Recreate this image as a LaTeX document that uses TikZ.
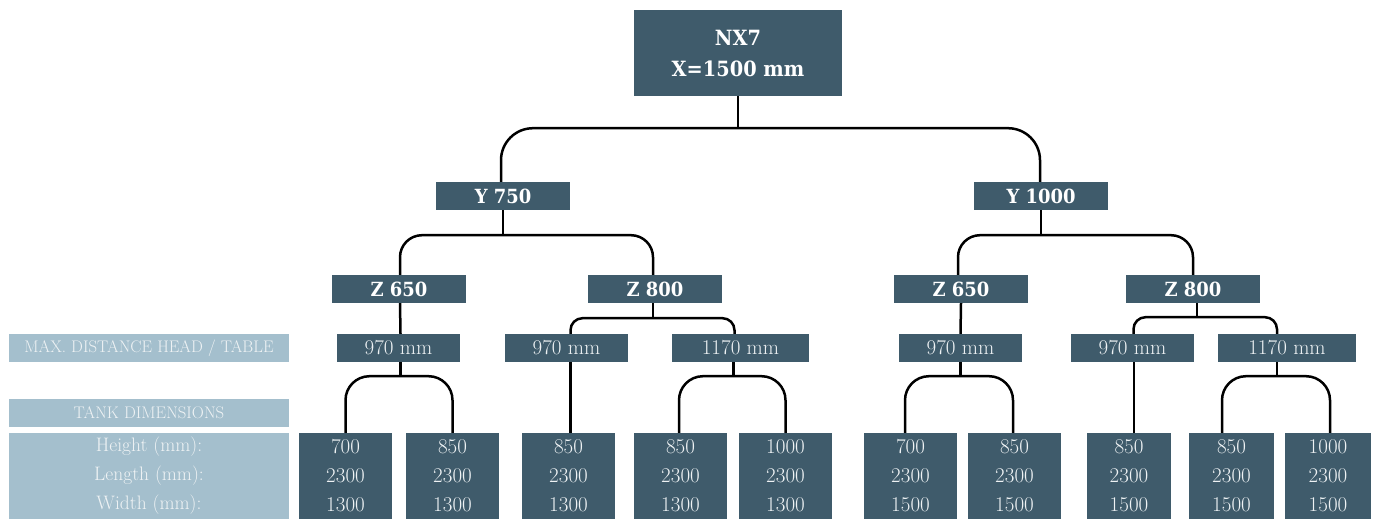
\documentclass[tikz,border=0pt]{standalone}
\usepackage{fontspec}
\newfontfamily\boldslab{DejaVu Serif}[FakeStretch=0.92]
\usetikzlibrary{calc}
\definecolor{darkbox}{HTML}{3F5B6B}
\definecolor{lightbox}{HTML}{A4BFCD}
\definecolor{boxtext}{HTML}{EEF2F4}
\tikzset{
  hdr/.style={fill=darkbox, text=white, inner sep=0pt, minimum height=28pt,
    font=\boldslab\bfseries\fontsize{19.5}{22}\selectfont},
  dist/.style={fill=darkbox, text=boxtext, inner sep=0pt, minimum height=28pt,
    font=\fontsize{21}{24}\selectfont},
  tank/.style={fill=darkbox, text=boxtext, inner sep=0pt, minimum height=86pt,
    align=center, font=\fontsize{21}{29}\selectfont},
  lab/.style={fill=lightbox, text=boxtext, inner sep=0pt, minimum width=280pt,
    align=center, font=\fontsize{16.8}{29}\selectfont},
  conn/.style={draw=black, line width=2.5pt},
}
\begin{document}
\begin{tikzpicture}[x=1pt,y=-1pt]
\useasboundingbox[fill=white] (0,0) rectangle (1376,519);
% root
\node[hdr, minimum width=208pt, minimum height=86pt, align=center,
  font=\boldslab\bfseries\fontsize{21}{31}\selectfont] (nx7) at (738,53) {NX7\\X=1500 mm};
% Y level
\node[hdr, minimum width=134pt] (y750) at (503,196) {Y 750};
\node[hdr, minimum width=134pt] (y1000) at (1041,196) {Y 1000};
% Z level
\node[hdr, minimum width=134pt] (z650l) at (399,289) {Z 650};
\node[hdr, minimum width=134pt] (z800l) at (655,289) {Z 800};
\node[hdr, minimum width=134pt] (z650r) at (961,289) {Z 650};
\node[hdr, minimum width=134pt] (z800r) at (1193,289) {Z 800};
% distances
\node[dist, minimum width=123pt] (d1) at (398.5,348) {970 mm};
\node[dist, minimum width=123pt] (d2) at (566.5,348) {970 mm};
\node[dist, minimum width=137pt] (d3) at (740.5,348) {1170 mm};
\node[dist, minimum width=123pt] (d4) at (960.5,348) {970 mm};
\node[dist, minimum width=123pt] (d5) at (1132.5,348) {970 mm};
\node[dist, minimum width=138pt] (d6) at (1287,348) {1170 mm};
% tanks
\node[tank, minimum width=93pt] (t1) at (345.5,476) {700\\2300\\1300};
\node[tank, minimum width=93pt] (t2) at (452.5,476) {850\\2300\\1300};
\node[tank, minimum width=93pt] (t3) at (568.5,476) {850\\2300\\1300};
\node[tank, minimum width=93pt] (t4) at (680.5,476) {850\\2300\\1300};
\node[tank, minimum width=93pt] (t5) at (785.5,476) {1000\\2300\\1300};
\node[tank, minimum width=93pt] (t6) at (910.5,476) {700\\2300\\1500};
\node[tank, minimum width=93pt] (t7) at (1014.5,476) {850\\2300\\1500};
\node[tank, minimum width=84pt] (t8) at (1129,476) {850\\2300\\1500};
\node[tank, minimum width=85pt] (t9) at (1231.5,476) {850\\2300\\1500};
\node[tank, minimum width=86pt] (t10) at (1328,476) {1000\\2300\\1500};
% left labels
\node[lab, minimum height=28pt] (l1) at (149,348) {MAX. DISTANCE HEAD / TABLE};
\node[lab, minimum height=28pt] (l2) at (149,413) {TANK DIMENSIONS};
\node[lab, minimum height=86pt, font=\fontsize{19.5}{29}\selectfont] (l3) at (149,476) {Height (mm):\\Length (mm):\\Width (mm):};
% connectors
\coordinate (j0) at ($(nx7.south)+(0,32)$);
\draw[conn] (nx7.south) -- (j0);
\draw[conn, rounded corners=32pt] ([xshift=-2pt]y750.north) |- (j0) -| ([xshift=-1pt]y1000.north);

\coordinate (j1) at ($(y750.south)+(0,25)$);
\draw[conn] (y750.south) -- (j1);
\draw[conn, rounded corners=22pt] ([xshift=1pt]z650l.north) |- (j1) -| ([xshift=-2pt]z800l.north);

\coordinate (j2) at ($(y1000.south)+(0,25)$);
\draw[conn] (y1000.south) -- (j2);
\draw[conn, rounded corners=22pt] ([xshift=-3pt]z650r.north) |- (j2) -| (z800r.north);

\draw[conn] ([xshift=1pt]z650l.south) -- ([xshift=2pt]d1.north);
\draw[conn] (z650r.south) -- (d4.north);

\coordinate (j3) at ($(z800l.south)+(-2,15)$);
\draw[conn] ([xshift=-2pt]z800l.south) -- (j3);
\draw[conn, rounded corners=12pt] ([xshift=4pt]d2.north) |- (j3) -| ([xshift=-6pt]d3.north);

\coordinate (j4) at ($(z800r.south)+(4,14)$);
\draw[conn] ([xshift=4pt]z800r.south) -- (j4);
\draw[conn, rounded corners=12pt] ([xshift=1pt]d5.north) |- (j4) -| ([xshift=-10pt]d6.north);

\coordinate (j5) at ($(d1.south)+(2,14)$);
\draw[conn] ([xshift=2pt]d1.south) -- (j5);
\draw[conn, rounded corners=24pt] (t1.north) |- (j5) -| (t2.north);

\draw[conn] ([xshift=4pt]d2.south) -- ([xshift=2pt]t3.north);

\coordinate (j6) at ($(d3.south)+(-7,14)$);
\draw[conn] ([xshift=-7pt]d3.south) -- (j6);
\draw[conn, rounded corners=24pt] ([xshift=-1.5pt]t4.north) |- (j6) -| (t5.north);

\coordinate (j7) at ($(d4.south)+(0,14)$);
\draw[conn] (d4.south) -- (j7);
\draw[conn, rounded corners=24pt] ([xshift=-5.5pt]t6.north) |- (j7) -| ([xshift=-1.5pt]t7.north);

\draw[conn] ([xshift=1.5pt]d5.south) -- ([xshift=5pt]t8.north);

\coordinate (j8) at ($(d6.south)+(-10,14)$);
\draw[conn] ([xshift=-10pt]d6.south) -- (j8);
\draw[conn, rounded corners=24pt] ([xshift=-9.5pt]t9.north) |- (j8) -| ([xshift=2pt]t10.north);
\end{tikzpicture}
\end{document}
